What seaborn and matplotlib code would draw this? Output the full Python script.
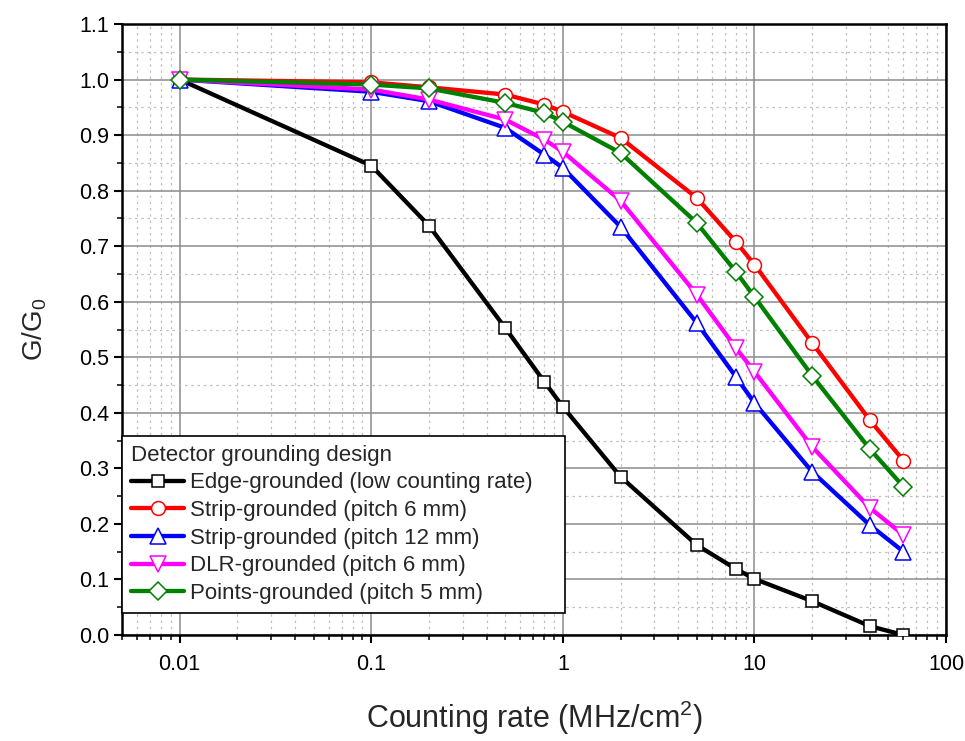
import numpy as np
import pandas as pd
import matplotlib
matplotlib.use("Agg")
import matplotlib.pyplot as plt
import seaborn as sns
from matplotlib.ticker import LogLocator, FixedLocator, MultipleLocator, FuncFormatter

# ---- data ----
rate = [0.01, 0.1, 0.2, 0.5, 0.8, 1, 2, 5, 8, 10, 20, 40, 60]
edge_grounded = [1.0, 0.845, 0.737, 0.553, 0.456, 0.411, 0.285, 0.162, 0.119, 0.101, 0.061, 0.016, 0.0]
strip_6mm = [1.0, 0.995, 0.986, 0.973, 0.955, 0.942, 0.895, 0.787, 0.708, 0.667, 0.526, 0.387, 0.314]
strip_12mm = [1.0, 0.978, 0.961, 0.913, 0.865, 0.841, 0.735, 0.562, 0.465, 0.418, 0.294, 0.198, 0.150]
dlr_6mm = [1.0, 0.982, 0.964, 0.928, 0.892, 0.870, 0.782, 0.613, 0.517, 0.474, 0.339, 0.229, 0.180]
points_5mm = [1.0, 0.991, 0.984, 0.958, 0.940, 0.924, 0.868, 0.742, 0.654, 0.609, 0.467, 0.335, 0.267]

series_names = [
    "Edge-grounded (low counting rate)",
    "Strip-grounded (pitch 6 mm)",
    "Strip-grounded (pitch 12 mm)",
    "DLR-grounded (pitch 6 mm)",
    "Points-grounded (pitch 5 mm)",
]
series_values = [edge_grounded, strip_6mm, strip_12mm, dlr_6mm, points_5mm]
colors = ["#000000", "#ff0000", "#0000ff", "#ff00ff", "#008000"]
markers = ["s", "o", "^", "v", "D"]
msizes = [9, 10, 11, 11, 9]

legend_title = "Detector grounding design"
xticks = [0.01, 0.1, 1, 10, 100]
xticklabels = ["0.01", "0.1", "1", "10", "100"]

sns.set_style("white")
plt.rcParams["font.family"] = ["Liberation Sans", "DejaVu Sans"]
plt.rcParams["mathtext.default"] = "regular"

fig = plt.figure(figsize=(9.65, 7.41), dpi=100)
ax = fig.add_axes([122 / 965, 1 - 635 / 741, (946 - 122) / 965, (635 - 24) / 741])

for name, vals, c, m, ms in zip(series_names, series_values, colors, markers, msizes):
    df = pd.DataFrame({"rate": rate, "g": vals})
    sns.lineplot(data=df, x="rate", y="g", ax=ax, color=c, lw=3.1,
                 marker=m, markersize=ms, markerfacecolor="white",
                 markeredgecolor=c, markeredgewidth=1.1, label=name,
                 zorder=3)

ax.set_xscale("log")
ax.set_xlim(0.005, 100)
ax.set_ylim(0.0, 1.1)

ax.xaxis.set_major_locator(FixedLocator(xticks))
ax.xaxis.set_major_formatter(FuncFormatter(lambda v, p: dict(zip(xticks, xticklabels)).get(v, "")))
ax.xaxis.set_minor_locator(LogLocator(base=10, subs=np.arange(2, 10), numticks=20))
ax.xaxis.set_minor_formatter(FuncFormatter(lambda v, p: ""))
ax.yaxis.set_major_locator(MultipleLocator(0.1))
ax.yaxis.set_minor_locator(MultipleLocator(0.05))
ax.yaxis.set_major_formatter(FuncFormatter(lambda v, p: f"{v:.1f}"))

ax.grid(True, which="major", color="#8c8c8c", lw=1.1, ls="-", zorder=0)
ax.grid(True, which="minor", color="#c0c0c0", lw=0.9, ls=(0, (2, 3)), zorder=0)
ax.set_axisbelow(True)

for sp in ax.spines.values():
    sp.set_visible(True)
    sp.set_color("black")
    sp.set_linewidth(1.8)

ax.tick_params(axis="both", which="major", direction="out", length=6, width=1.5,
               labelsize=15.5, colors="black", bottom=True, left=True)
ax.tick_params(axis="both", which="minor", direction="out", length=3.5, width=1.3,
               bottom=True, left=True)
ax.tick_params(axis="x", which="major", pad=8)
ax.tick_params(axis="y", which="major", pad=3)

ax.set_xlabel(r"Counting rate (MHz/cm$^2$)", fontsize=22, labelpad=17)
ax.set_ylabel(r"G/G$_0$", fontsize=20, labelpad=22)

leg = ax.legend(title=legend_title, loc="lower left",
                bbox_to_anchor=(0.0, 0.036, 0.538, 0.296), mode="expand",
                borderaxespad=0.0, fontsize=16, title_fontsize=16,
                frameon=True, fancybox=False, edgecolor="black",
                handlelength=2.4, handletextpad=0.25, labelspacing=0.3,
                borderpad=0.4, alignment="left")
leg.get_frame().set_linewidth(1.2)
leg.get_frame().set_alpha(1)
leg.set_zorder(5)

fig.savefig("out.png", dpi=100)
